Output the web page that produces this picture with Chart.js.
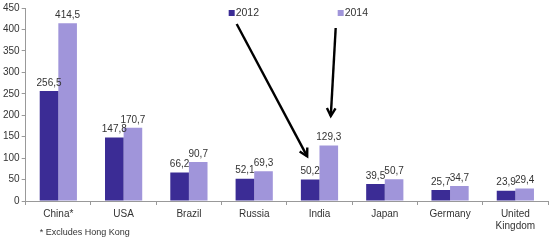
<!DOCTYPE html>
<html>
<head>
<meta charset="utf-8">
<script src="https://cdn.jsdelivr.net/npm/chart.js@4"></script>
<style>
  html, body { margin: 0; padding: 0; background: #fff; }
  #wrap { width: 552px; height: 242px; position: relative; }
</style>
</head>
<body>
<div id="wrap"><canvas id="chart"></canvas></div>
<script>
const countries = ['China*', 'USA', 'Brazil', 'Russia', 'India', 'Japan', 'Germany', ['United', 'Kingdom']];
const values2012 = [256.5, 147.8, 66.2, 52.1, 50.2, 39.5, 25.7, 23.9];
const values2014 = [414.5, 170.7, 90.7, 69.3, 129.3, 50.7, 34.7, 29.4];
const seriesNames = ['2012', '2014'];
const footnote = '* Excludes Hong Kong';

const dark = '#3b2c95';
const light = '#a095da';
const textColor = '#333';
const fontFam = "'Liberation Sans', Arial, sans-serif";

// value labels above bars, comma decimal
const valueLabels = {
    id: 'valueLabels',
    afterDatasetsDraw(chart) {
        const ctx = chart.ctx;
        ctx.save();
        ctx.font = '10px ' + fontFam;
        ctx.fillStyle = textColor;
        ctx.textAlign = 'center';
        ctx.textBaseline = 'bottom';
        chart.data.datasets.forEach((ds, i) => {
            chart.getDatasetMeta(i).data.forEach((bar, j) => {
                ctx.fillText(ds.data[j].toFixed(1).replace('.', ','), bar.x, bar.y - 3);
            });
        });
        ctx.restore();
    }
};

// legend, arrows pointing at India, footnote
const extras = {
    id: 'extras',
    afterDraw(chart) {
        const ctx = chart.ctx;
        const area = chart.chartArea;
        const y = chart.scales.y;
        ctx.save();
        ctx.font = '10.5px ' + fontFam;
        ctx.textBaseline = 'middle';
        ctx.textAlign = 'left';
        const legendX = [area.left + 203, area.left + 312];
        [dark, light].forEach((c, i) => {
            ctx.fillStyle = c;
            ctx.fillRect(legendX[i], 10, 6, 6);
            ctx.fillStyle = textColor;
            ctx.fillText(seriesNames[i], legendX[i] + 7, 13.5);
        });

        ctx.font = '9px ' + fontFam;
        ctx.fillText(footnote, area.left + 14, 233);

        const india = chart.getDatasetMeta(0).data[4];
        const india2 = chart.getDatasetMeta(1).data[4];
        const arrows = [
            [legendX[0] + 8, 24, india.x - 3, y.getPixelForValue(104)],
            [legendX[1] - 2, 28, india2.x + 2, y.getPixelForValue(198)]
        ];
        ctx.strokeStyle = '#000';
        ctx.lineWidth = 2.4;
        arrows.forEach(([x1, y1, x2, y2]) => {
            ctx.beginPath();
            ctx.moveTo(x1, y1);
            ctx.lineTo(x2, y2);
            ctx.stroke();
            const a = Math.atan2(y2 - y1, x2 - x1);
            const h = 9;
            ctx.beginPath();
            ctx.moveTo(x2 - h * Math.cos(a - 0.5), y2 - h * Math.sin(a - 0.5));
            ctx.lineTo(x2, y2);
            ctx.lineTo(x2 - h * Math.cos(a + 0.5), y2 - h * Math.sin(a + 0.5));
            ctx.stroke();
        });
        ctx.restore();
    }
};

new Chart(document.getElementById('chart'), {
    type: 'bar',
    data: {
        labels: countries,
        datasets: [
            { label: seriesNames[0], data: values2012, backgroundColor: dark },
            { label: seriesNames[1], data: values2014, backgroundColor: light }
        ]
    },
    options: {
        responsive: true,
        maintainAspectRatio: false,
        animation: false,
        layout: { padding: { top: 5, right: 4, left: 1, bottom: 7 } },
        datasets: { bar: { categoryPercentage: 0.57, barPercentage: 1 } },
        scales: {
            x: {
                grid: { drawOnChartArea: false, tickLength: 4, color: '#999' },
                border: { color: '#999' },
                ticks: { color: textColor, font: { family: fontFam, size: 10 }, maxRotation: 0, padding: 3 }
            },
            y: {
                min: 0, max: 450,
                grid: { drawOnChartArea: false, tickLength: 4, color: '#999' },
                border: { color: '#999' },
                ticks: { stepSize: 50, color: textColor, font: { family: fontFam, size: 10 }, padding: 2 }
            }
        },
        plugins: {
            legend: { display: false },
            tooltip: { enabled: false }
        }
    },
    plugins: [valueLabels, extras]
});
</script>
</body>
</html>
